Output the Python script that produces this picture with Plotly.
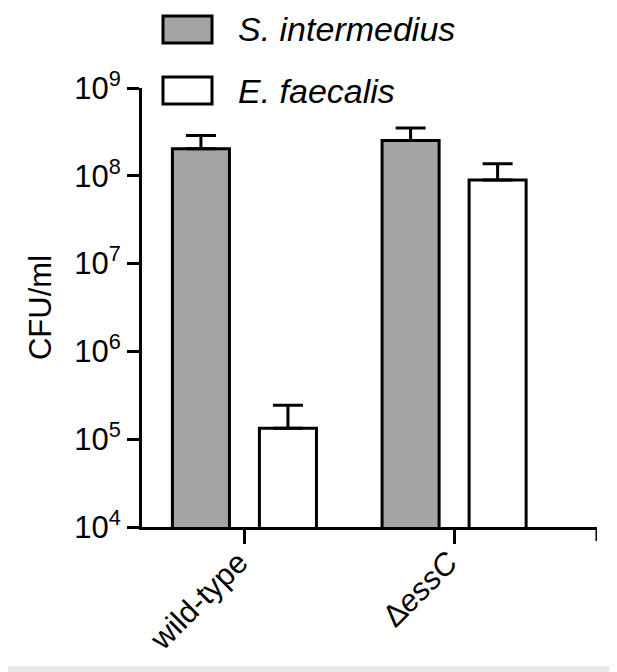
import plotly.graph_objects as go

# ---- data ----
categories = ["wild-type", "\u2206<i>essC</i>"]
series_names = ["S. intermedius", "E. faecalis"]
s_intermedius = [2.03e8, 2.52e8]
s_intermedius_err = [0.84e8, 0.99e8]
e_faecalis = [1.33e5, 8.94e7]
e_faecalis_err = [1.10e5, 4.80e7]
y_tick_vals = [1e4, 1e5, 1e6, 1e7, 1e8, 1e9]
y_tick_text = ["10<sup>4</sup>", "10<sup>5</sup>", "10<sup>6</sup>",
               "10<sup>7</sup>", "10<sup>8</sup>", "10<sup>9</sup>"]

# ---- style ----
OFF = 8  # page body margin
W, H = 609, 664
ML, MR, MT, MB = 142 - OFF, 617 - 589 - OFF, 88 - OFF, 672 - 527
FONT = "Liberation Sans, Arial, Helvetica, sans-serif"
GREY = "#a4a4a4"
XR = [-0.49, 1.68]
BW = 0.272
x_pos = list(range(len(categories)))

fig = go.Figure()
fills = [GREY, "white"]
vals = [s_intermedius, e_faecalis]
errs = [s_intermedius_err, e_faecalis_err]
offsets = [-0.345, 0.07]
for name, fill, v, e, off in zip(series_names, fills, vals, errs, offsets):
    fig.add_trace(go.Bar(
        x=x_pos, y=v, name=name, width=BW, offset=off,
        marker=dict(color=fill, line=dict(color="black", width=3)),
        error_y=dict(type="data", array=e, arrayminus=[0] * len(e),
                     symmetric=False, color="black", thickness=3, width=15),
        showlegend=False,
    ))

plot_h = H - MT - MB
plot_w = W - ML - MR
def px_x(px):  # page px -> paper
    return (px - OFF - ML) / plot_w
def px_y(py):
    return (H - MB - (py - OFF)) / plot_h

legend_rows = [(16, 43), (77, 104)]
shapes = []
annotations = []
for (y0, y1), fill, name in zip(legend_rows, fills, series_names):
    shapes.append(dict(type="rect", xref="paper", yref="paper",
                       x0=px_x(163), x1=px_x(212), y0=px_y(y1), y1=px_y(y0),
                       fillcolor=fill, line=dict(color="black", width=3)))
    annotations.append(dict(xref="paper", yref="paper",
                            x=px_x(236), y=px_y((y0 + y1) / 2),
                            text="<i>" + name + "</i>", showarrow=False,
                            xanchor="left", yanchor="middle",
                            font=dict(family=FONT, size=34, color="black")))

# end tick on the right side of x axis
shapes.append(dict(type="line", xref="x", yref="paper", x0=XR[1], x1=XR[1],
                   y0=0, y1=-14 / plot_h, line=dict(color="black", width=3)))
# light strip at the bottom of the page
shapes.append(dict(type="rect", xref="paper", yref="paper", x0=px_x(0),
                   x1=px_x(617), y0=px_y(672), y1=px_y(666),
                   fillcolor="#e8e8e8", line=dict(width=0), layer="below"))

fig.update_layout(
    width=W, height=H,
    margin=dict(l=ML, r=MR, t=MT, b=MB, autoexpand=False),
    paper_bgcolor="white", plot_bgcolor="white",
    barmode="overlay",
    font=dict(family=FONT, color="black"),
    shapes=shapes, annotations=annotations,
    xaxis=dict(range=XR, tickmode="array", tickvals=x_pos, ticktext=categories,
               tickangle=-45, showline=True, linecolor="black", linewidth=3,
               ticks="outside", ticklen=14, tickwidth=3, tickcolor="black",
               showgrid=False, zeroline=False, automargin=False,
               ticklabelstandoff=-12, ticklabelshift=-6,
               tickfont=dict(family=FONT, size=31, color="black")),
    yaxis=dict(type="log", range=[4, 9], tickmode="array", tickvals=y_tick_vals,
               ticktext=y_tick_text, showline=True, linecolor="black", linewidth=3,
               ticks="outside", ticklen=12, tickwidth=3, tickcolor="black",
               showgrid=False, zeroline=False, automargin=False,
               tickfont=dict(family=FONT, size=31, color="black"),
               title=dict(text="CFU/ml", standoff=14,
                          font=dict(family=FONT, size=31, color="black"))),
)

fig.write_html("out.html")
